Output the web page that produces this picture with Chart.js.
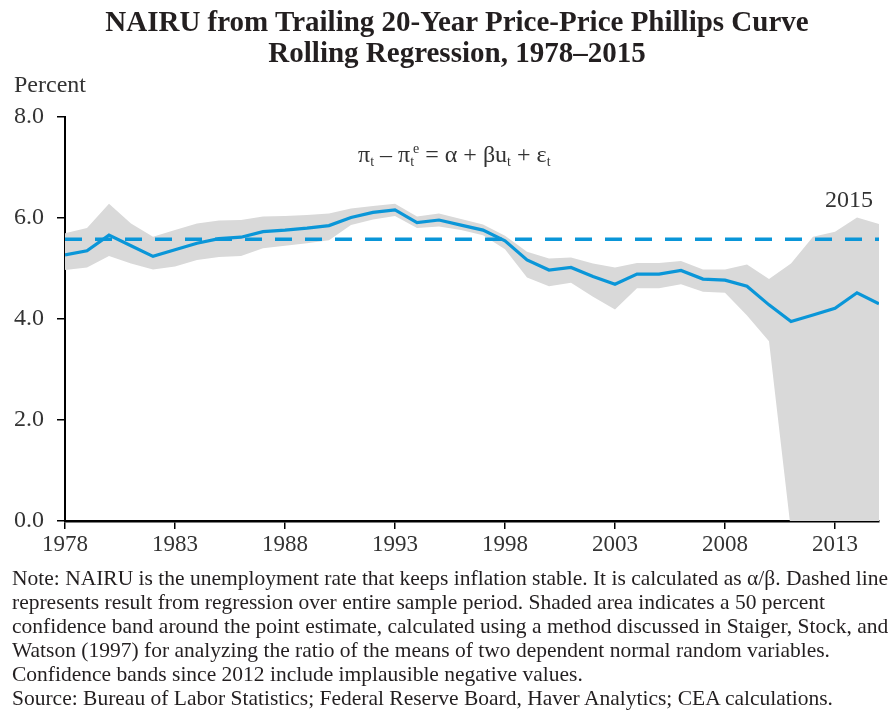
<!DOCTYPE html>
<html>
<head>
<meta charset="utf-8">
<script src="https://cdn.jsdelivr.net/npm/chart.js@4/dist/chart.umd.min.js"></script>
<style>
  html, body { margin: 0; padding: 0; background: #fff; }
  #wrap { position: relative; width: 896px; height: 711px; overflow: hidden; font-family: 'Liberation Serif', 'Times New Roman', serif; color: #231f20; }
  canvas { position: absolute; left: 0; top: 0; }
  .t { position: absolute; white-space: nowrap; }
  #title { left: 9px; top: 6px; width: 896px; text-align: center; font-weight: bold; font-size: 29px; line-height: 31px; }
  #unit { left: 14px; top: 72px; font-size: 24px; line-height: 24px; color: #333; }
  #eq { left: 358px; top: 135px; font-size: 24px; line-height: 28px; color: #333; }
  #eq sub { font-size: 14px; vertical-align: -4px; }
  #eq sup { font-size: 14px; vertical-align: 9px; margin-left: -1px; }
  #lab2015 { left: 825px; top: 187px; font-size: 24px; line-height: 24px; color: #333; }
  #note { left: 12px; top: 566px; font-size: 21.5px; line-height: 24px; color: #231f20; }
</style>
</head>
<body>
<div id="wrap">
  <canvas id="c" width="896" height="711"></canvas>
  <div class="t" id="title">NAIRU from Trailing 20-Year Price-Price Phillips Curve<br>Rolling Regression, 1978–2015</div>
  <div class="t" id="unit">Percent</div>
  <div class="t" id="eq">π<sub>t</sub> – π<sub>t</sub><sup>e</sup> = α + βu<sub>t</sub> + ε<sub>t</sub></div>
  <div class="t" id="lab2015">2015</div>
  <div class="t" id="note">Note: NAIRU is the unemployment rate that keeps inflation stable. It is calculated as α/β. Dashed line<br>represents result from regression over entire sample period. Shaded area indicates a 50 percent<br>confidence band around the point estimate, calculated using a method discussed in Staiger, Stock, and<br>Watson (1997) for analyzing the ratio of the means of two dependent normal random variables.<br>Confidence bands since 2012 include implausible negative values.<br>Source: Bureau of Labor Statistics; Federal Reserve Board, Haver Analytics; CEA calculations.</div>
</div>
<script>
const years = [1978,1979,1980,1981,1982,1983,1984,1985,1986,1987,1988,1989,1990,1991,1992,1993,1994,1995,1996,1997,1998,1999,2000,2001,2002,2003,2004,2005,2006,2007,2008,2009,2010,2011,2012,2013,2014,2015];
const nairu = [5.27,5.35,5.66,5.45,5.24,5.37,5.50,5.59,5.62,5.73,5.76,5.80,5.85,6.01,6.11,6.16,5.91,5.96,5.86,5.76,5.55,5.17,4.97,5.02,4.84,4.69,4.89,4.89,4.96,4.79,4.77,4.65,4.28,3.95,4.08,4.21,4.52,4.30];
const bandUpper = [5.70,5.80,6.28,5.89,5.63,5.76,5.89,5.95,5.96,6.03,6.04,6.06,6.09,6.19,6.24,6.28,6.03,6.09,5.98,5.87,5.65,5.33,5.20,5.22,5.10,5.02,5.11,5.11,5.15,4.98,4.98,5.08,4.79,5.10,5.63,5.73,6.01,5.88];
const bandLower = [4.97,5.02,5.25,5.10,4.98,5.04,5.17,5.23,5.25,5.40,5.45,5.50,5.56,5.86,5.97,6.04,5.80,5.83,5.76,5.66,5.38,4.82,4.65,4.72,4.44,4.19,4.61,4.61,4.69,4.54,4.52,4.07,3.56,-0.2,-1.0,-1.0,-1.0,-1.0];
const fullSampleNairu = 5.58;
const xTicks = [1978,1983,1988,1993,1998,2003,2008,2013];
const yTicks = [0,2,4,6,8];

const pts = arr => years.map((y, i) => ({x: y, y: arr[i]}));
const blue = '#0a96d8';
const serif = "'Liberation Serif', 'Times New Roman', serif";

new Chart(document.getElementById('c'), {
  type: 'line',
  data: {
    datasets: [
      { label: 'NAIRU', data: pts(nairu), borderColor: blue, borderWidth: 3.2, pointRadius: 0, fill: false, tension: 0, order: 0 },
      { label: 'Full sample', data: [{x: years[0], y: fullSampleNairu}, {x: years[years.length-1], y: fullSampleNairu}], borderColor: blue, borderWidth: 3.5, borderDash: [17, 13], pointRadius: 0, fill: false, order: 1 },
      { label: 'Upper', data: pts(bandUpper), borderWidth: 0, borderColor: 'rgba(0,0,0,0)', backgroundColor: '#d9d9d9', pointRadius: 0, fill: '+1', tension: 0, order: 2 },
      { label: 'Lower', data: pts(bandLower), borderWidth: 0, borderColor: 'rgba(0,0,0,0)', pointRadius: 0, fill: false, tension: 0, order: 3 }
    ]
  },
  options: {
    responsive: false,
    animation: false,
    devicePixelRatio: 1,
    layout: { padding: { left: 0, top: 117, right: 17, bottom: 150 } },
    plugins: { legend: { display: false }, tooltip: { enabled: false }, filler: { drawTime: 'beforeDatasetsDraw' } },
    scales: {
      x: {
        type: 'linear', min: 1978, max: 2015,
        afterBuildTicks: s => { s.ticks = xTicks.map(v => ({value: v})); },
        afterFit: s => { s.height = 40; },
        ticks: { font: {family: serif, size: 23}, color: '#333', padding: 2, maxRotation: 0, autoSkip: false, callback: v => String(v) },
        grid: { display: true, drawOnChartArea: false, tickLength: 8, color: '#000', lineWidth: 1.5 },
        border: { display: true, color: '#000', width: 2.5 }
      },
      y: {
        min: 0, max: 8,
        afterBuildTicks: s => { s.ticks = yTicks.map(v => ({value: v})); },
        afterFit: s => { s.width = 65; },
        ticks: { font: {family: serif, size: 24}, color: '#333', padding: 13, callback: v => Number(v).toFixed(1) },
        grid: { display: true, drawOnChartArea: false, tickLength: 8, color: '#000', lineWidth: 1.5 },
        border: { display: true, color: '#000', width: 2 }
      }
    }
  }
});
</script>
</body>
</html>
